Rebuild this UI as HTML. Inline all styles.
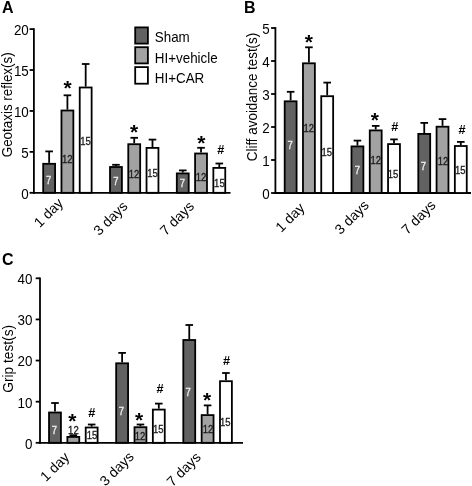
<!DOCTYPE html>
<html><head><meta charset="utf-8"><style>
html,body{margin:0;padding:0;background:#fff;}
svg{display:block;font-family:"Liberation Sans",sans-serif;}
</style></head><body>
<svg width="472" height="486" viewBox="0 0 472 486">
<rect width="472" height="486" fill="#fff"/>
<g style="filter:opacity(1)">
<line x1="33.90" y1="28.20" x2="33.90" y2="193.70" stroke="#000" stroke-width="1.8"/>
<line x1="33.00" y1="192.80" x2="230.50" y2="192.80" stroke="#000" stroke-width="1.8"/>
<line x1="29.60" y1="192.80" x2="33.90" y2="192.80" stroke="#000" stroke-width="1.8"/>
<text x="0" y="4.80" font-size="13.4" text-anchor="end" transform="translate(28.80,193.60) scale(1.0,1.07)">0</text>
<line x1="29.60" y1="151.88" x2="33.90" y2="151.88" stroke="#000" stroke-width="1.8"/>
<text x="0" y="4.80" font-size="13.4" text-anchor="end" transform="translate(28.80,152.68) scale(1.0,1.07)">5</text>
<line x1="29.60" y1="110.95" x2="33.90" y2="110.95" stroke="#000" stroke-width="1.8"/>
<text x="0" y="4.80" font-size="13.4" text-anchor="end" transform="translate(28.80,111.75) scale(1.0,1.07)">10</text>
<line x1="29.60" y1="70.03" x2="33.90" y2="70.03" stroke="#000" stroke-width="1.8"/>
<text x="0" y="4.80" font-size="13.4" text-anchor="end" transform="translate(28.80,70.83) scale(1.0,1.07)">15</text>
<line x1="29.60" y1="29.10" x2="33.90" y2="29.10" stroke="#000" stroke-width="1.8"/>
<text x="0" y="4.80" font-size="13.4" text-anchor="end" transform="translate(28.80,29.90) scale(1.0,1.07)">20</text>
<line x1="49.14" y1="162.90" x2="49.14" y2="151.40" stroke="#000" stroke-width="1.8"/>
<line x1="45.34" y1="151.40" x2="52.94" y2="151.40" stroke="#000" stroke-width="1.8"/>
<rect x="43.19" y="163.80" width="11.90" height="29.00" fill="#626262" stroke="#000" stroke-width="1.8"/>
<line x1="67.41" y1="109.60" x2="67.41" y2="95.30" stroke="#000" stroke-width="1.8"/>
<line x1="63.61" y1="95.30" x2="71.21" y2="95.30" stroke="#000" stroke-width="1.8"/>
<rect x="61.46" y="110.50" width="11.90" height="82.30" fill="#a2a2a2" stroke="#000" stroke-width="1.8"/>
<line x1="85.68" y1="86.60" x2="85.68" y2="64.00" stroke="#000" stroke-width="1.8"/>
<line x1="81.88" y1="64.00" x2="89.48" y2="64.00" stroke="#000" stroke-width="1.8"/>
<rect x="79.73" y="87.50" width="11.90" height="105.30" fill="#ffffff" stroke="#000" stroke-width="1.8"/>
<line x1="115.95" y1="166.10" x2="115.95" y2="164.80" stroke="#000" stroke-width="1.8"/>
<line x1="112.15" y1="164.80" x2="119.75" y2="164.80" stroke="#000" stroke-width="1.8"/>
<rect x="110.00" y="167.00" width="11.90" height="25.80" fill="#626262" stroke="#000" stroke-width="1.8"/>
<line x1="134.22" y1="143.30" x2="134.22" y2="137.80" stroke="#000" stroke-width="1.8"/>
<line x1="130.42" y1="137.80" x2="138.02" y2="137.80" stroke="#000" stroke-width="1.8"/>
<rect x="128.27" y="144.20" width="11.90" height="48.60" fill="#a2a2a2" stroke="#000" stroke-width="1.8"/>
<line x1="152.49" y1="147.00" x2="152.49" y2="139.60" stroke="#000" stroke-width="1.8"/>
<line x1="148.69" y1="139.60" x2="156.29" y2="139.60" stroke="#000" stroke-width="1.8"/>
<rect x="146.54" y="147.90" width="11.90" height="44.90" fill="#ffffff" stroke="#000" stroke-width="1.8"/>
<line x1="182.76" y1="172.50" x2="182.76" y2="170.40" stroke="#000" stroke-width="1.8"/>
<line x1="178.96" y1="170.40" x2="186.56" y2="170.40" stroke="#000" stroke-width="1.8"/>
<rect x="176.81" y="173.40" width="11.90" height="19.40" fill="#626262" stroke="#000" stroke-width="1.8"/>
<line x1="201.03" y1="152.60" x2="201.03" y2="147.80" stroke="#000" stroke-width="1.8"/>
<line x1="197.23" y1="147.80" x2="204.83" y2="147.80" stroke="#000" stroke-width="1.8"/>
<rect x="195.08" y="153.50" width="11.90" height="39.30" fill="#a2a2a2" stroke="#000" stroke-width="1.8"/>
<line x1="219.30" y1="167.00" x2="219.30" y2="163.50" stroke="#000" stroke-width="1.8"/>
<line x1="215.50" y1="163.50" x2="223.10" y2="163.50" stroke="#000" stroke-width="1.8"/>
<rect x="213.35" y="167.90" width="11.90" height="24.90" fill="#ffffff" stroke="#000" stroke-width="1.8"/>
<text x="0" y="3.58" font-size="10.0" text-anchor="middle" fill="#f0f0f0" stroke="#f0f0f0" stroke-width="0.3" transform="translate(48.60,180.70) scale(0.95,1.0)">7</text>
<text x="0" y="3.58" font-size="10.0" text-anchor="middle" fill="#1a1a1a" stroke="#1a1a1a" stroke-width="0.3" transform="translate(67.20,159.10) scale(0.95,1.0)">12</text>
<text x="0" y="3.58" font-size="10.0" text-anchor="middle" fill="#1a1a1a" stroke="#1a1a1a" stroke-width="0.3" transform="translate(85.50,141.20) scale(0.95,1.0)">15</text>
<text x="0" y="3.58" font-size="10.0" text-anchor="middle" fill="#f0f0f0" stroke="#f0f0f0" stroke-width="0.3" transform="translate(116.00,181.80) scale(0.95,1.0)">7</text>
<text x="0" y="3.58" font-size="10.0" text-anchor="middle" fill="#1a1a1a" stroke="#1a1a1a" stroke-width="0.3" transform="translate(134.00,174.40) scale(0.95,1.0)">12</text>
<text x="0" y="3.58" font-size="10.0" text-anchor="middle" fill="#1a1a1a" stroke="#1a1a1a" stroke-width="0.3" transform="translate(152.50,173.50) scale(0.95,1.0)">15</text>
<text x="0" y="3.58" font-size="10.0" text-anchor="middle" fill="#f0f0f0" stroke="#f0f0f0" stroke-width="0.3" transform="translate(182.50,183.80) scale(0.95,1.0)">7</text>
<text x="0" y="3.58" font-size="10.0" text-anchor="middle" fill="#1a1a1a" stroke="#1a1a1a" stroke-width="0.3" transform="translate(201.00,177.50) scale(0.95,1.0)">12</text>
<text x="0" y="3.58" font-size="10.0" text-anchor="middle" fill="#1a1a1a" stroke="#1a1a1a" stroke-width="0.3" transform="translate(219.40,183.50) scale(0.95,1.0)">15</text>
<text x="0" y="10" font-size="21" text-anchor="middle" font-weight="bold" transform="translate(67.65,85.70) scale(1.0,0.95)">*</text>
<text x="0" y="10" font-size="21" text-anchor="middle" font-weight="bold" transform="translate(134.10,129.60) scale(1.0,0.95)">*</text>
<text x="0" y="10" font-size="21" text-anchor="middle" font-weight="bold" transform="translate(201.40,140.40) scale(1.0,0.95)">*</text>
<text x="220.90" y="154.00" font-size="12.7" text-anchor="middle" font-weight="bold">#</text>
<text x="0" y="4.80" font-size="13.4" text-anchor="middle" transform="translate(7.20,104.80) rotate(-90) scale(1.0,1.07)">Geotaxis reflex(s)</text>
<text x="0" y="0" font-size="14" text-anchor="end" transform="translate(64.00,204.00) rotate(-45)">1 day</text>
<text x="0" y="0" font-size="14" text-anchor="end" transform="translate(128.50,207.00) rotate(-45)">3 days</text>
<text x="0" y="0" font-size="14" text-anchor="end" transform="translate(195.00,207.00) rotate(-45)">7 days</text>
<rect x="135.20" y="27.40" width="12.70" height="16.20" fill="#626262" stroke="#000" stroke-width="1.8"/>
<rect x="135.20" y="47.20" width="12.70" height="16.20" fill="#a2a2a2" stroke="#000" stroke-width="1.8"/>
<rect x="135.20" y="67.10" width="12.70" height="16.60" fill="#ffffff" stroke="#000" stroke-width="1.8"/>
<text x="0" y="4.80" font-size="13.4" text-anchor="start" transform="translate(154.80,36.50) scale(1.0,1.07)">Sham</text>
<text x="0" y="4.80" font-size="13.4" text-anchor="start" transform="translate(154.80,57.40) scale(1.0,1.07)">HI+vehicle</text>
<text x="0" y="4.80" font-size="13.4" text-anchor="start" transform="translate(154.80,77.60) scale(1.0,1.07)">HI+CAR</text>
<text x="0" y="5.73" font-size="16" text-anchor="start" font-weight="bold" transform="translate(2.00,7.00) scale(1.0,1.04)">A</text>
<line x1="275.40" y1="27.10" x2="275.40" y2="193.90" stroke="#000" stroke-width="1.8"/>
<line x1="274.50" y1="193.00" x2="471.00" y2="193.00" stroke="#000" stroke-width="1.8"/>
<line x1="271.10" y1="193.00" x2="275.40" y2="193.00" stroke="#000" stroke-width="1.8"/>
<text x="0" y="4.80" font-size="13.4" text-anchor="end" transform="translate(269.80,193.80) scale(1.0,1.07)">0</text>
<line x1="271.10" y1="160.00" x2="275.40" y2="160.00" stroke="#000" stroke-width="1.8"/>
<text x="0" y="4.80" font-size="13.4" text-anchor="end" transform="translate(269.80,160.80) scale(1.0,1.07)">1</text>
<line x1="271.10" y1="127.00" x2="275.40" y2="127.00" stroke="#000" stroke-width="1.8"/>
<text x="0" y="4.80" font-size="13.4" text-anchor="end" transform="translate(269.80,127.80) scale(1.0,1.07)">2</text>
<line x1="271.10" y1="94.00" x2="275.40" y2="94.00" stroke="#000" stroke-width="1.8"/>
<text x="0" y="4.80" font-size="13.4" text-anchor="end" transform="translate(269.80,94.80) scale(1.0,1.07)">3</text>
<line x1="271.10" y1="61.00" x2="275.40" y2="61.00" stroke="#000" stroke-width="1.8"/>
<text x="0" y="4.80" font-size="13.4" text-anchor="end" transform="translate(269.80,61.80) scale(1.0,1.07)">4</text>
<line x1="271.10" y1="28.00" x2="275.40" y2="28.00" stroke="#000" stroke-width="1.8"/>
<text x="0" y="4.80" font-size="13.4" text-anchor="end" transform="translate(269.80,28.80) scale(1.0,1.07)">5</text>
<line x1="290.64" y1="100.40" x2="290.64" y2="91.80" stroke="#000" stroke-width="1.8"/>
<line x1="286.84" y1="91.80" x2="294.44" y2="91.80" stroke="#000" stroke-width="1.8"/>
<rect x="284.69" y="101.30" width="11.90" height="91.70" fill="#626262" stroke="#000" stroke-width="1.8"/>
<line x1="308.92" y1="62.40" x2="308.92" y2="47.30" stroke="#000" stroke-width="1.8"/>
<line x1="305.12" y1="47.30" x2="312.72" y2="47.30" stroke="#000" stroke-width="1.8"/>
<rect x="302.97" y="63.30" width="11.90" height="129.70" fill="#a2a2a2" stroke="#000" stroke-width="1.8"/>
<line x1="327.20" y1="95.30" x2="327.20" y2="82.60" stroke="#000" stroke-width="1.8"/>
<line x1="323.40" y1="82.60" x2="331.00" y2="82.60" stroke="#000" stroke-width="1.8"/>
<rect x="321.25" y="96.20" width="11.90" height="96.80" fill="#ffffff" stroke="#000" stroke-width="1.8"/>
<line x1="357.44" y1="145.50" x2="357.44" y2="140.60" stroke="#000" stroke-width="1.8"/>
<line x1="353.64" y1="140.60" x2="361.24" y2="140.60" stroke="#000" stroke-width="1.8"/>
<rect x="351.49" y="146.40" width="11.90" height="46.60" fill="#626262" stroke="#000" stroke-width="1.8"/>
<line x1="375.72" y1="129.50" x2="375.72" y2="125.90" stroke="#000" stroke-width="1.8"/>
<line x1="371.92" y1="125.90" x2="379.52" y2="125.90" stroke="#000" stroke-width="1.8"/>
<rect x="369.77" y="130.40" width="11.90" height="62.60" fill="#a2a2a2" stroke="#000" stroke-width="1.8"/>
<line x1="394.00" y1="143.20" x2="394.00" y2="139.40" stroke="#000" stroke-width="1.8"/>
<line x1="390.20" y1="139.40" x2="397.80" y2="139.40" stroke="#000" stroke-width="1.8"/>
<rect x="388.05" y="144.10" width="11.90" height="48.90" fill="#ffffff" stroke="#000" stroke-width="1.8"/>
<line x1="424.24" y1="133.00" x2="424.24" y2="122.90" stroke="#000" stroke-width="1.8"/>
<line x1="420.44" y1="122.90" x2="428.04" y2="122.90" stroke="#000" stroke-width="1.8"/>
<rect x="418.29" y="133.90" width="11.90" height="59.10" fill="#626262" stroke="#000" stroke-width="1.8"/>
<line x1="442.52" y1="125.80" x2="442.52" y2="119.10" stroke="#000" stroke-width="1.8"/>
<line x1="438.72" y1="119.10" x2="446.32" y2="119.10" stroke="#000" stroke-width="1.8"/>
<rect x="436.57" y="126.70" width="11.90" height="66.30" fill="#a2a2a2" stroke="#000" stroke-width="1.8"/>
<line x1="460.80" y1="145.10" x2="460.80" y2="141.90" stroke="#000" stroke-width="1.8"/>
<line x1="457.00" y1="141.90" x2="464.60" y2="141.90" stroke="#000" stroke-width="1.8"/>
<rect x="454.85" y="146.00" width="11.90" height="47.00" fill="#ffffff" stroke="#000" stroke-width="1.8"/>
<text x="0" y="3.58" font-size="10.0" text-anchor="middle" fill="#f0f0f0" stroke="#f0f0f0" stroke-width="0.3" transform="translate(290.20,145.90) scale(0.95,1.0)">7</text>
<text x="0" y="3.58" font-size="10.0" text-anchor="middle" fill="#1a1a1a" stroke="#1a1a1a" stroke-width="0.3" transform="translate(308.80,128.50) scale(0.95,1.0)">12</text>
<text x="0" y="3.58" font-size="10.0" text-anchor="middle" fill="#1a1a1a" stroke="#1a1a1a" stroke-width="0.3" transform="translate(326.80,152.80) scale(0.95,1.0)">15</text>
<text x="0" y="3.58" font-size="10.0" text-anchor="middle" fill="#f0f0f0" stroke="#f0f0f0" stroke-width="0.3" transform="translate(357.30,170.10) scale(0.95,1.0)">7</text>
<text x="0" y="3.58" font-size="10.0" text-anchor="middle" fill="#1a1a1a" stroke="#1a1a1a" stroke-width="0.3" transform="translate(375.80,160.80) scale(0.95,1.0)">12</text>
<text x="0" y="3.58" font-size="10.0" text-anchor="middle" fill="#1a1a1a" stroke="#1a1a1a" stroke-width="0.3" transform="translate(393.00,174.80) scale(0.95,1.0)">15</text>
<text x="0" y="3.58" font-size="10.0" text-anchor="middle" fill="#f0f0f0" stroke="#f0f0f0" stroke-width="0.3" transform="translate(423.30,166.50) scale(0.95,1.0)">7</text>
<text x="0" y="3.58" font-size="10.0" text-anchor="middle" fill="#1a1a1a" stroke="#1a1a1a" stroke-width="0.3" transform="translate(443.00,161.70) scale(0.95,1.0)">12</text>
<text x="0" y="3.58" font-size="10.0" text-anchor="middle" fill="#1a1a1a" stroke="#1a1a1a" stroke-width="0.3" transform="translate(460.20,170.60) scale(0.95,1.0)">15</text>
<text x="0" y="10" font-size="21" text-anchor="middle" font-weight="bold" transform="translate(308.80,39.70) scale(1.0,0.95)">*</text>
<text x="0" y="10" font-size="21" text-anchor="middle" font-weight="bold" transform="translate(374.80,117.00) scale(1.0,0.95)">*</text>
<text x="394.90" y="130.60" font-size="12.7" text-anchor="middle" font-weight="bold">#</text>
<text x="462.10" y="134.40" font-size="12.7" text-anchor="middle" font-weight="bold">#</text>
<text x="0" y="4.80" font-size="13.4" text-anchor="middle" transform="translate(252.00,97.00) rotate(-90) scale(1.0,1.07)">Cliff avoidance test(s)</text>
<text x="0" y="0" font-size="14" text-anchor="end" transform="translate(305.40,208.90) rotate(-45)">1 day</text>
<text x="0" y="0" font-size="14" text-anchor="end" transform="translate(369.60,206.00) rotate(-45)">3 days</text>
<text x="0" y="0" font-size="14" text-anchor="end" transform="translate(436.50,206.00) rotate(-45)">7 days</text>
<text x="0" y="5.73" font-size="16" text-anchor="start" font-weight="bold" transform="translate(244.00,7.00) scale(1.0,1.04)">B</text>
<line x1="40.00" y1="277.40" x2="40.00" y2="443.70" stroke="#000" stroke-width="1.8"/>
<line x1="39.10" y1="442.80" x2="243.00" y2="442.80" stroke="#000" stroke-width="1.8"/>
<line x1="35.70" y1="442.80" x2="40.00" y2="442.80" stroke="#000" stroke-width="1.8"/>
<text x="0" y="4.80" font-size="13.4" text-anchor="end" transform="translate(32.50,443.60) scale(1.0,1.07)">0</text>
<line x1="35.70" y1="401.68" x2="40.00" y2="401.68" stroke="#000" stroke-width="1.8"/>
<text x="0" y="4.80" font-size="13.4" text-anchor="end" transform="translate(32.50,402.48) scale(1.0,1.07)">10</text>
<line x1="35.70" y1="360.55" x2="40.00" y2="360.55" stroke="#000" stroke-width="1.8"/>
<text x="0" y="4.80" font-size="13.4" text-anchor="end" transform="translate(32.50,361.35) scale(1.0,1.07)">20</text>
<line x1="35.70" y1="319.43" x2="40.00" y2="319.43" stroke="#000" stroke-width="1.8"/>
<text x="0" y="4.80" font-size="13.4" text-anchor="end" transform="translate(32.50,320.23) scale(1.0,1.07)">30</text>
<line x1="35.70" y1="278.30" x2="40.00" y2="278.30" stroke="#000" stroke-width="1.8"/>
<text x="0" y="4.80" font-size="13.4" text-anchor="end" transform="translate(32.50,279.10) scale(1.0,1.07)">40</text>
<line x1="54.98" y1="411.60" x2="54.98" y2="403.00" stroke="#000" stroke-width="1.8"/>
<line x1="51.18" y1="403.00" x2="58.78" y2="403.00" stroke="#000" stroke-width="1.8"/>
<rect x="49.03" y="412.50" width="11.90" height="30.30" fill="#626262" stroke="#000" stroke-width="1.8"/>
<line x1="73.32" y1="436.00" x2="73.32" y2="435.20" stroke="#000" stroke-width="1.8"/>
<line x1="69.52" y1="435.20" x2="77.12" y2="435.20" stroke="#000" stroke-width="1.8"/>
<rect x="67.37" y="436.90" width="11.90" height="5.90" fill="#a2a2a2" stroke="#000" stroke-width="1.8"/>
<line x1="91.66" y1="426.60" x2="91.66" y2="424.50" stroke="#000" stroke-width="1.8"/>
<line x1="87.86" y1="424.50" x2="95.46" y2="424.50" stroke="#000" stroke-width="1.8"/>
<rect x="85.71" y="427.50" width="11.90" height="15.30" fill="#ffffff" stroke="#000" stroke-width="1.8"/>
<line x1="122.12" y1="362.40" x2="122.12" y2="352.90" stroke="#000" stroke-width="1.8"/>
<line x1="118.32" y1="352.90" x2="125.92" y2="352.90" stroke="#000" stroke-width="1.8"/>
<rect x="116.17" y="363.30" width="11.90" height="79.50" fill="#626262" stroke="#000" stroke-width="1.8"/>
<line x1="140.46" y1="426.30" x2="140.46" y2="424.50" stroke="#000" stroke-width="1.8"/>
<line x1="136.66" y1="424.50" x2="144.26" y2="424.50" stroke="#000" stroke-width="1.8"/>
<rect x="134.51" y="427.20" width="11.90" height="15.60" fill="#a2a2a2" stroke="#000" stroke-width="1.8"/>
<line x1="158.80" y1="408.70" x2="158.80" y2="403.60" stroke="#000" stroke-width="1.8"/>
<line x1="155.00" y1="403.60" x2="162.60" y2="403.60" stroke="#000" stroke-width="1.8"/>
<rect x="152.85" y="409.60" width="11.90" height="33.20" fill="#ffffff" stroke="#000" stroke-width="1.8"/>
<line x1="189.26" y1="339.10" x2="189.26" y2="325.00" stroke="#000" stroke-width="1.8"/>
<line x1="185.46" y1="325.00" x2="193.06" y2="325.00" stroke="#000" stroke-width="1.8"/>
<rect x="183.31" y="340.00" width="11.90" height="102.80" fill="#626262" stroke="#000" stroke-width="1.8"/>
<line x1="207.60" y1="414.20" x2="207.60" y2="405.40" stroke="#000" stroke-width="1.8"/>
<line x1="203.80" y1="405.40" x2="211.40" y2="405.40" stroke="#000" stroke-width="1.8"/>
<rect x="201.65" y="415.10" width="11.90" height="27.70" fill="#a2a2a2" stroke="#000" stroke-width="1.8"/>
<line x1="225.94" y1="380.30" x2="225.94" y2="373.00" stroke="#000" stroke-width="1.8"/>
<line x1="222.14" y1="373.00" x2="229.74" y2="373.00" stroke="#000" stroke-width="1.8"/>
<rect x="219.99" y="381.20" width="11.90" height="61.60" fill="#ffffff" stroke="#000" stroke-width="1.8"/>
<text x="0" y="3.58" font-size="10.0" text-anchor="middle" fill="#f0f0f0" stroke="#f0f0f0" stroke-width="0.3" transform="translate(54.40,430.20) scale(0.95,1.0)">7</text>
<text x="0" y="3.58" font-size="10.0" text-anchor="middle" fill="#1a1a1a" stroke="#1a1a1a" stroke-width="0.3" transform="translate(73.40,430.20) scale(0.95,1.0)">12</text>
<text x="0" y="3.58" font-size="10.0" text-anchor="middle" fill="#1a1a1a" stroke="#1a1a1a" stroke-width="0.3" transform="translate(92.00,435.10) scale(0.95,1.0)">15</text>
<text x="0" y="3.58" font-size="10.0" text-anchor="middle" fill="#f0f0f0" stroke="#f0f0f0" stroke-width="0.3" transform="translate(121.50,411.20) scale(0.95,1.0)">7</text>
<text x="0" y="3.58" font-size="10.0" text-anchor="middle" fill="#1a1a1a" stroke="#1a1a1a" stroke-width="0.3" transform="translate(140.10,436.80) scale(0.95,1.0)">12</text>
<text x="0" y="3.58" font-size="10.0" text-anchor="middle" fill="#1a1a1a" stroke="#1a1a1a" stroke-width="0.3" transform="translate(158.20,429.30) scale(0.95,1.0)">15</text>
<text x="0" y="3.58" font-size="10.0" text-anchor="middle" fill="#f0f0f0" stroke="#f0f0f0" stroke-width="0.3" transform="translate(188.20,392.80) scale(0.95,1.0)">7</text>
<text x="0" y="3.58" font-size="10.0" text-anchor="middle" fill="#1a1a1a" stroke="#1a1a1a" stroke-width="0.3" transform="translate(208.00,429.80) scale(0.95,1.0)">12</text>
<text x="0" y="3.58" font-size="10.0" text-anchor="middle" fill="#1a1a1a" stroke="#1a1a1a" stroke-width="0.3" transform="translate(225.30,422.50) scale(0.95,1.0)">15</text>
<text x="0" y="10" font-size="21" text-anchor="middle" font-weight="bold" transform="translate(72.30,418.60) scale(1.0,0.95)">*</text>
<text x="0" y="10" font-size="21" text-anchor="middle" font-weight="bold" transform="translate(139.00,417.00) scale(1.0,0.95)">*</text>
<text x="0" y="10" font-size="21" text-anchor="middle" font-weight="bold" transform="translate(207.10,397.20) scale(1.0,0.95)">*</text>
<text x="91.90" y="416.50" font-size="12.7" text-anchor="middle" font-weight="bold">#</text>
<text x="160.10" y="392.80" font-size="12.7" text-anchor="middle" font-weight="bold">#</text>
<text x="226.60" y="364.50" font-size="12.7" text-anchor="middle" font-weight="bold">#</text>
<text x="0" y="4.90" font-size="13.7" text-anchor="middle" transform="translate(7.30,358.80) rotate(-90) scale(1.0,1.07)">Grip test(s)</text>
<text x="0" y="0" font-size="14" text-anchor="end" transform="translate(70.20,458.00) rotate(-45)">1 day</text>
<text x="0" y="0" font-size="14" text-anchor="end" transform="translate(134.70,457.60) rotate(-45)">3 days</text>
<text x="0" y="0" font-size="14" text-anchor="end" transform="translate(201.60,458.00) rotate(-45)">7 days</text>
<text x="0" y="5.73" font-size="16" text-anchor="start" font-weight="bold" transform="translate(2.00,258.70) scale(1.0,1.04)">C</text>
</g>
</svg></body></html>
